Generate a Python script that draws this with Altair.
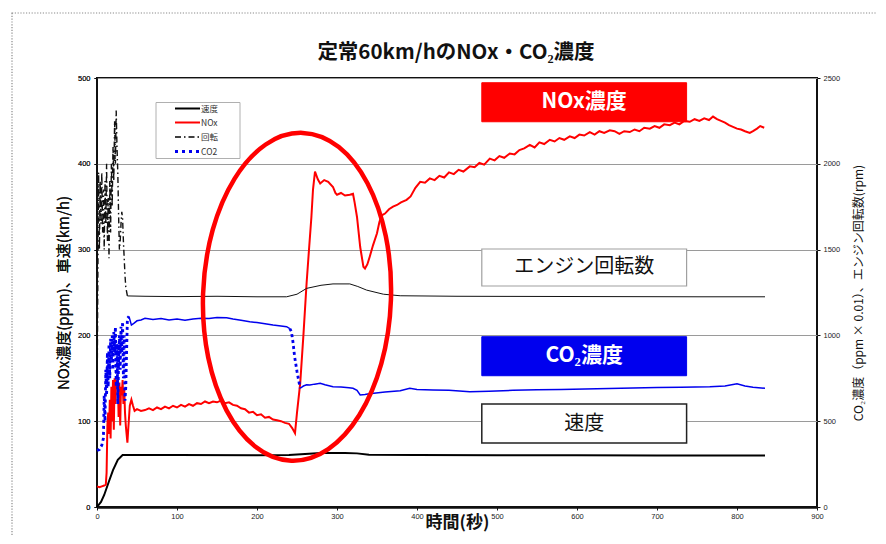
import altair as alt
import pandas as pd

# ---------------- data ----------------
speed_t = [0, 5, 9, 15, 20, 26, 32, 40, 100, 200, 240, 255, 280, 310, 325, 340, 400, 500, 600, 700, 800, 835]
speed_v = [0, 6, 14, 30, 43, 55, 60.5, 60.5, 60.5, 60.3, 60.5, 61.5, 62.8, 63, 62.5, 60.8, 60.5, 60.3, 60.2, 60, 60, 60]

nox_t = [0, 3, 6, 9, 11, 12, 13, 14, 15, 16, 17, 18, 19, 20, 21, 22, 23, 24, 25, 26, 27, 28, 29, 30,
         31, 32, 33, 34, 35, 36, 37, 38, 39, 41, 43, 45, 47, 50, 55, 60,
         65, 70, 75, 80, 85, 90, 95, 100, 105, 110, 115, 120, 125, 130, 135, 140, 145, 150, 155, 160,
         165, 170, 175, 180, 185, 190, 195, 200, 205, 210, 215, 220, 225, 230, 235, 240, 244, 247.5,
         250, 254, 258, 262, 265, 268, 270, 272.5, 276, 279, 284, 289, 295, 298, 300, 305, 310, 316,
         320, 322, 325, 329, 333, 335, 338, 341, 345, 350, 353, 356, 360, 365, 370, 375, 380, 387,
         392, 398, 404, 410, 416, 422, 428, 434, 440, 446, 452, 458, 466, 472, 478, 484, 491, 497,
         503, 509, 516, 522, 528, 534, 541, 547, 553, 559, 566, 572, 578, 584, 591, 597, 603, 609,
         616, 622, 628, 634, 641, 647, 653, 659, 666, 672, 678, 684, 691, 697, 703, 709, 716, 722,
         728, 734, 741, 747, 753, 759, 765, 770, 775, 780, 785, 790, 795, 800, 805, 810, 816, 820,
         825, 829, 834]
nox_v = [24, 23, 24, 25, 26, 40, 95, 110, 85, 125, 80, 140, 100, 148, 90, 150, 120, 148, 140, 150, 105, 145, 95, 140,
         130, 148, 120, 138, 110, 95, 85, 75, 90, 118, 125, 118, 112, 114, 112, 113,
         115, 113, 116, 114, 117, 115, 118, 116, 119, 117, 120, 118, 121, 120, 123, 121, 123, 122, 124, 121,
         122, 119, 118, 115, 114, 110, 111, 107, 108, 104, 105, 102, 101, 100, 98, 97, 92, 86,
         110, 144, 200, 261, 300, 338, 370, 391, 382, 377, 381, 379, 373, 366, 364, 366, 363, 364,
         365, 355, 338, 303, 280, 278, 283, 292, 305, 319, 332, 340, 342, 347, 350, 352, 355, 358,
         362, 372, 379, 378, 383, 381, 386, 384, 390, 388, 393, 391, 397, 396, 401, 399, 406, 404,
         409, 407, 412, 411, 416, 418, 422, 419, 425, 423, 428, 426, 430, 428, 432, 430, 434, 433,
         437, 434, 438, 436, 439, 438, 435, 438, 437, 440, 438, 442, 441, 444, 442, 446, 445, 448,
         446, 450, 449, 452, 450, 453, 451, 455, 452, 450, 448, 445, 443, 441, 440, 438, 436, 438,
         441, 444, 442]

rpm_t = [0, 1, 2, 3, 4, 5, 6, 7, 8, 9, 10, 11, 12, 13, 14, 15, 16, 17, 18, 19, 20, 21, 22, 23, 24, 25,
         26, 27, 28, 29, 30, 31, 32, 33, 34, 35, 36, 38, 60, 100, 150, 200, 237, 250, 262, 280, 295,
         316, 326, 337, 358, 379, 450, 550, 650, 750, 835]
rpm_v = [550, 1300, 1950, 1500, 1900, 1650, 1950, 1600, 1850, 1500, 1900, 1650, 2000, 1550, 1800, 1450,
         1900, 1600, 2000, 1750, 2100, 1900, 2250, 2000, 2310, 2100, 1950, 1700, 1500, 1550, 1650, 1720,
         1680, 1550, 1450, 1350, 1280, 1230, 1228, 1226, 1228, 1225, 1225, 1240, 1274, 1292, 1300,
         1300, 1285, 1264, 1240, 1231, 1228, 1227, 1226, 1225, 1225]

co2_t = [0, 3, 6, 8, 9, 10, 11, 12, 13, 14, 15, 16, 17, 18, 19, 20, 21, 22, 23, 24, 25, 26, 27, 28, 29,
         30, 31, 32, 33, 34, 35, 36, 37, 38, 40, 43, 46, 50, 55, 60, 70, 80, 90, 100, 110, 120, 130,
         140, 150, 162, 170, 180, 191, 200, 210, 220, 230, 237, 241, 243, 245, 247, 250, 252, 254,
         258, 262, 266, 272, 279, 285, 295, 305, 315, 320, 325, 329, 335, 340, 346, 360, 379, 391,
         400, 420, 440, 466, 490, 520, 550, 580, 610, 640, 670, 700, 730, 766, 785, 800, 810, 820, 835]
co2_v = [330, 335, 360, 400, 650, 500, 800, 650, 900, 700, 950, 750, 980, 850, 1000, 800, 1020, 900,
         1050, 700, 950, 600, 850, 1000, 800, 1050, 900, 1080, 750, 1000, 620, 700, 900, 1100, 1110,
         1060, 1070, 1085, 1090, 1100, 1092, 1098, 1090, 1095, 1088, 1096, 1100, 1098, 1104, 1103,
         1095, 1088, 1080, 1075, 1068, 1060, 1055, 1051, 1040, 1022, 960, 876, 790, 740, 692,
         705, 712, 711, 716, 721, 712, 701, 700, 695, 692, 680, 653, 655, 660, 663, 670, 678, 692,
         685, 682, 680, 672, 675, 680, 683, 685, 688, 690, 693, 696, 698, 701, 705, 718, 705, 698, 692]

legend_labels = ["速度", "NOx", "回転", "CO2"]
title_text = "定常60km/hのNOx・CO₂濃度"
x_title = "時間(秒)"
yl_title = "NOx濃度(ppm)、車速(km/h)"
yr_title = "CO₂濃度（ppm × 0.01）、エンジン回転数(rpm)"
x_ticks = [0, 100, 200, 300, 400, 500, 600, 700, 800, 900]
yl_ticks = [0, 100, 200, 300, 400, 500]
yr_ticks = [0, 500, 1000, 1500, 2000, 2500]

# ---------------- helpers ----------------
JP = "Noto Sans CJK JP"
LAT = "Liberation Sans"


def segments(ts, vs, dashed):
    rows, seg, prev = [], 0, None
    for i, (t, v) in enumerate(zip(ts, vs)):
        style = "dash" if any(a <= t <= b for a, b in dashed) else "solid"
        if prev is not None and style != prev:
            seg += 1
            rows.append(dict(t=ts[i - 1], v=vs[i - 1], seg=seg, style=style))
        rows.append(dict(t=t, v=v, seg=seg, style=style))
        prev = style
    return pd.DataFrame(rows)


x_axis = alt.Axis(values=x_ticks, format="d", title=x_title, titleFont=JP, titleFontSize=17,
                  titleFontWeight="bold", titleColor="#111", titlePadding=-5, labelFont=LAT, labelFontSize=7.5,
                  labelColor="#222", tickSize=3, tickColor="#111", domainColor="#111", domainWidth=2.5,
                  grid=False, labelFlush=False)
yl_axis = alt.Axis(values=yl_ticks, format="d", title=yl_title, titleFont=JP, titleFontSize=15,
                   titleFontWeight="normal", titleColor="#111", titlePadding=6, labelFont=LAT, labelFontSize=7.5,
                   labelColor="#222", tickSize=3, tickColor="#111", domain=False, grid=True,
                   gridColor="#9a9a9a", gridWidth=1, labelPadding=4)
yr_axis = alt.Axis(values=yr_ticks, format="d", title=yr_title, orient="right", titleFont=JP, titleFontSize=12,
                   titleFontWeight="normal", titleColor="#111", titleAngle=270, titlePadding=26,
                   labelFont=LAT, labelFontSize=7.5, labelColor="#222", tickSize=3, tickColor="#111",
                   domain=False, grid=False, labelPadding=3)

xs = alt.Scale(domain=[0, 900], nice=False, zero=False)
yls = alt.Scale(domain=[0, 500], nice=False)
yrs = alt.Scale(domain=[0, 2500], nice=False)


def X(f="t"):
    return alt.X(f"{f}:Q", scale=xs, axis=x_axis)


def YL(f="v"):
    return alt.Y(f"{f}:Q", scale=yls, axis=yl_axis)


def YR(f="v"):
    return alt.Y(f"{f}:Q", scale=yrs, axis=yr_axis)


one = pd.DataFrame({"a": [0]})

# ---------------- frame and title ----------------
frame = alt.Chart(one).mark_rect(fillOpacity=0, stroke="#8a8a8a", strokeWidth=1.2, strokeDash=[1.2, 1.6]).encode(
    x=alt.value(-85), x2=alt.value(1200), y=alt.value(-65), y2=alt.value(1200))
title = alt.Chart(pd.DataFrame({"lab": [title_text]})).mark_text(
    font=JP, fontSize=20.5, fontWeight="bold", color="#111111", align="center", baseline="middle").encode(
    x=alt.value(359), y=alt.value(-25), text="lab:N")

# ---------------- left-axis series ----------------
speed_df = pd.DataFrame({"t": speed_t, "v": speed_v})
nox_df = pd.DataFrame({"t": nox_t, "v": nox_v})

speed_line = alt.Chart(speed_df).mark_line(color="#000000", strokeWidth=2).encode(x=X(), y=YL())
nox_line = alt.Chart(nox_df).mark_line(color="#ff0000", strokeWidth=2).encode(x=X(), y=YL())


# annotation boxes in data units
def box(label, y1, y2, fill, stroke, sw, tcolor, weight, fsize):
    d = pd.DataFrame({"x1": [481], "x2": [737], "y1": [y1], "y2": [y2], "xm": [609], "ym": [(y1 + y2) / 2],
                      "lab": [label]})
    r = alt.Chart(d).mark_rect(fill=fill, stroke=stroke, strokeWidth=sw).encode(
        x=X("x1"), x2="x2:Q", y=YL("y1"), y2="y2:Q")
    t = alt.Chart(d).mark_text(font=JP, fontSize=fsize, fontWeight=weight, color=tcolor, baseline="middle",
                               align="center").encode(x=X("xm"), y=YL("ym"), text="lab:N")
    return [r, t]


boxes = []
boxes += box("NOx濃度", 449, 494.5, "#ff0000", "#ff0000", 1, "#ffffff", "bold", 21)
boxes += box("エンジン回転数", 257.6, 300.7, "#ffffff", "#a0a0a0", 1.2, "#111111", "normal", 20)
boxes += box("CO₂濃度", 153, 198.5, "#0000ee", "#0000ee", 1, "#ffffff", "bold", 21)
boxes += box("速度", 74.6, 120, "#ffffff", "#222222", 1.5, "#111111", "normal", 20)

# ellipse highlight
ell_df = pd.DataFrame({"t": [250], "v": [245]})
ell_path = ("M0,-1C0.3166,-1,0.573,-0.5523,0.573,0C0.573,0.5523,0.3166,1,0,1"
            "C-0.3166,1,-0.573,0.5523,-0.573,0C-0.573,-0.5523,-0.3166,-1,0,-1Z")
ellipse = alt.Chart(ell_df).mark_point(shape=ell_path, size=107584, filled=False, color="#ff0000",
                                       strokeWidth=4.5, opacity=1, angle=2).encode(x=X(), y=YL())

# legend (drawn manually)
leg_box = alt.Chart(one).mark_rect(fill="#ffffff", stroke="#b0b0b0", strokeWidth=1).encode(
    x=alt.value(59), x2=alt.value(143), y=alt.value(24.5), y2=alt.value(80.5))
leg_rows = [30.5, 44.5, 59, 73.5]
leg_styles = [dict(color="#000000", strokeWidth=2),
              dict(color="#ff0000", strokeWidth=2),
              dict(color="#000000", strokeWidth=1.3, strokeDash=[6, 3, 1.5, 3]),
              dict(color="#0000ee", strokeWidth=2.8, strokeDash=[3, 4])]
legend_layers = [leg_box]
for lab, yy, st in zip(legend_labels, leg_rows, leg_styles):
    legend_layers.append(alt.Chart(one).mark_rule(**st).encode(
        x=alt.value(78), x2=alt.value(103), y=alt.value(yy)))
    legend_layers.append(alt.Chart(pd.DataFrame({"lab": [lab]})).mark_text(
        font=JP, fontSize=8.5, color="#333333", align="left", baseline="middle").encode(
        x=alt.value(104), y=alt.value(yy), text="lab:N"))

# ---------------- right-axis series ----------------
rpm_df = segments(rpm_t, rpm_v, [(0, 38)])
co2_df = segments(co2_t, co2_v, [(0, 40), (243, 254)])

rpm_solid = alt.Chart(rpm_df).transform_filter("datum.style == 'solid'").mark_line(
    color="#111111", strokeWidth=1).encode(x=X(), y=YR(), detail="seg:N")
rpm_dash = alt.Chart(rpm_df).transform_filter("datum.style == 'dash'").mark_line(
    color="#111111", strokeWidth=1.4, strokeDash=[6, 3, 1.5, 3]).encode(x=X(), y=YR(), detail="seg:N")
co2_solid = alt.Chart(co2_df).transform_filter("datum.style == 'solid'").mark_line(
    color="#0000ee", strokeWidth=1.5).encode(x=X(), y=YR(), detail="seg:N")
co2_dash = alt.Chart(co2_df).transform_filter("datum.style == 'dash'").mark_line(
    color="#0000ee", strokeWidth=2.8, strokeDash=[3, 3]).encode(x=X(), y=YR(), detail="seg:N")

left = alt.layer(frame, title, *boxes, speed_line, nox_line, *legend_layers)
right = alt.layer(rpm_dash, rpm_solid, co2_dash, co2_solid)
top = alt.layer(ellipse)

chart = alt.layer(left, right, top).resolve_scale(y="independent").properties(
    width=720, height=429,
    padding={"left": 89, "top": 70, "right": 60, "bottom": 28},
    autosize=alt.AutoSizeParams(type="none"),
    background="#ffffff",
).configure_view(stroke="#111111", strokeWidth=2)

chart.save("out.html", embed_options={"renderer": "svg", "actions": False})
